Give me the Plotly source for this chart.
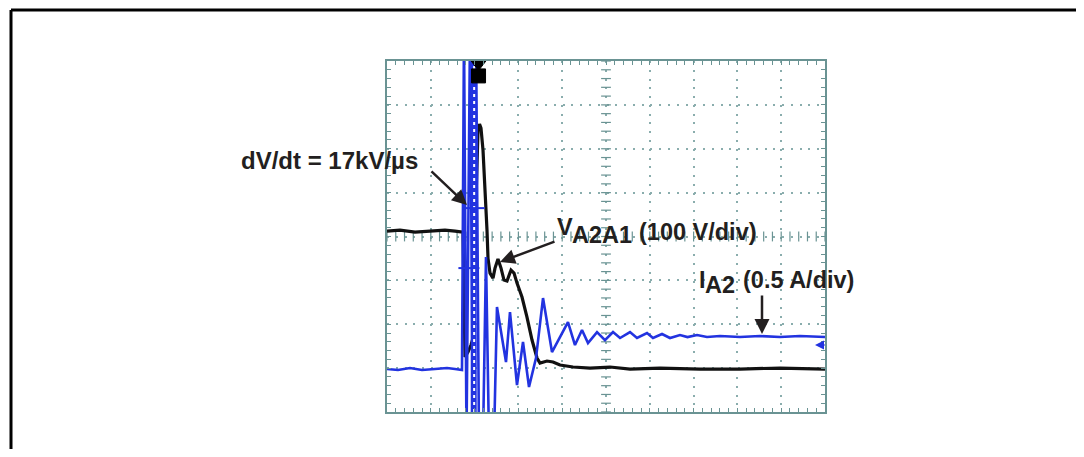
import numpy as np
import plotly.graph_objects as go

# ---------------- data (oscilloscope divisions: x 0..10, y 0..8) ----------------
t_vak = [0.000, 0.297, 0.639, 0.982, 1.324, 1.553, 1.735, 1.781, 1.849, 1.918, 1.986,
         2.032, 2.078, 2.112, 2.146, 2.192, 2.237, 2.283, 2.306, 2.352, 2.420, 2.466,
         2.534, 2.603, 2.671, 2.740, 2.831, 2.900, 2.968, 3.082, 3.196, 3.311, 3.425,
         3.493, 3.653, 3.790, 3.950, 4.247, 4.635, 5.091, 5.548, 6.233, 7.146, 8.059,
         8.973, 10.000]
v_a2a1 = [4.123, 4.146, 4.100, 4.123, 4.146, 4.123, 4.100, 1.253, 1.367, 1.526, 1.754,
          4.829, 6.424, 6.560, 6.469, 5.968, 5.216, 4.146, 3.508, 3.166, 3.052, 3.280,
          3.485, 3.280, 3.007, 2.984, 3.235, 3.166, 2.938, 2.620, 2.164, 1.640, 1.230,
          1.116, 1.162, 1.139, 1.071, 1.025, 1.002, 1.025, 0.979, 1.002, 0.979, 0.979,
          1.002, 0.979]

t_ia2 = [0.000, 0.251, 0.525, 0.799, 1.096, 1.370, 1.553, 1.712, 1.758, 1.815, 1.895,
         1.963, 2.032, 2.100, 2.192, 2.260, 2.329, 2.443, 2.511, 2.717, 2.808, 2.968,
         3.105, 3.242, 3.402, 3.562, 3.767, 4.132, 4.292, 4.452, 4.589, 4.795, 4.977,
         5.160, 5.320, 5.548, 5.708, 5.936, 6.073, 6.279, 6.461, 6.689, 6.861, 7.078,
         7.306, 7.603, 8.059, 8.516, 8.973, 9.429, 10.000]
i_a2 = [0.979, 0.957, 1.002, 0.957, 0.979, 1.002, 0.979, 0.957, 8.70, -0.64, 8.70,
        -0.64, 8.70, -0.64, -0.64, 3.531, -0.64, -0.64, 2.392, 1.139, 2.278, 0.615,
        1.595, 0.569, 1.230, 2.597, 1.367, 2.050, 1.526, 1.868, 1.572, 1.822, 1.640,
        1.822, 1.686, 1.822, 1.686, 1.800, 1.686, 1.777, 1.686, 1.754, 1.708, 1.754,
        1.708, 1.731, 1.708, 1.731, 1.708, 1.731, 1.708]

cursor_x = [1.99, 1.87]          # blue cursor crosses
cursor_y = [4.647, 3.280]
trigger_x = 2.09
ground_i = 1.53                   # blue channel ground marker level

# ---------------- layout helpers (page pixel coordinates, body margin 8px) ----------------
OFF = 8
W, H = 1084 - 2 * OFF, 457 - 2 * OFF
PX0, PX1, PY0, PY1 = 387, 825, 61, 412
def xp(px):
    return (px - OFF) / W
def yp(py):
    return 1 - (py - OFF) / H

GRID = "#8aadad"
FRAME = "#6a9393"
BLUE = "#2233e0"
BLACK = "#111111"
TXT = "#231f20"
FONT = "Liberation Sans, Arial, sans-serif"

fig = go.Figure()

# centre-line tick marks
fig.add_trace(go.Scatter(x=[5] * 41, y=np.round(np.arange(0, 8.01, 0.2), 2), mode="markers",
                         marker=dict(symbol="line-ew", size=7, line=dict(width=1.2, color=FRAME)),
                         hoverinfo="skip", showlegend=False))
fig.add_trace(go.Scatter(x=np.round(np.arange(0, 10.01, 0.2), 2), y=[4] * 51, mode="markers",
                         marker=dict(symbol="line-ns", size=7, line=dict(width=1.2, color=FRAME)),
                         hoverinfo="skip", showlegend=False))

# voltage trace
fig.add_trace(go.Scatter(x=t_vak, y=v_a2a1, mode="lines", line=dict(color=BLACK, width=3.2),
                         showlegend=False))
# current trace
fig.add_trace(go.Scatter(x=t_ia2, y=i_a2, mode="lines", line=dict(color=BLUE, width=2.6),
                         showlegend=False))
# blue dense band + dotted cursor
fig.add_trace(go.Scatter(x=[1.98, 1.98], y=[0, 8], mode="lines", line=dict(color=BLUE, width=6),
                         showlegend=False))
fig.add_trace(go.Scatter(x=[1.99, 1.99], y=[0, 8], mode="lines",
                         line=dict(color="white", width=2, dash="3px,4px"), showlegend=False))
# cursor crosses
fig.add_trace(go.Scatter(x=cursor_x, y=cursor_y, mode="markers",
                         marker=dict(symbol="line-ew", size=15, line=dict(width=2, color=BLUE)),
                         showlegend=False, cliponaxis=False))
# trigger marker
fig.add_trace(go.Scatter(x=[trigger_x, trigger_x], y=[7.93, 7.66], mode="markers",
                         marker=dict(symbol=["triangle-down", "square"], size=[13, 14],
                                     color="black", opacity=1,
                                     line=dict(width=1, color="black")),
                         showlegend=False, cliponaxis=False))

axis_common = dict(showgrid=True, gridcolor=GRID, griddash="2px,6.78px", gridwidth=1.5,
                   showline=True, linecolor=FRAME, linewidth=2, mirror="allticks",
                   ticks="inside", ticklen=4, tickcolor=FRAME, tickwidth=1.2,
                   showticklabels=False, zeroline=False, fixedrange=True,
                   minor=dict(dtick=0.2, ticks="inside", ticklen=4, tickcolor=FRAME,
                              tickwidth=1.2, showgrid=False))
fig.update_xaxes(range=[0, 10], dtick=1, tick0=0, domain=[xp(PX0), xp(PX1)], **axis_common)
fig.update_yaxes(range=[0, 8], dtick=1, tick0=0, domain=[yp(PY1), yp(PY0)], **axis_common)

ann = []
def text(s, px, pyc, size=23.5):
    ann.append(dict(text=s, x=xp(px), y=yp(pyc), xref="paper", yref="paper",
                    xanchor="left", yanchor="middle", showarrow=False,
                    font=dict(family=FONT, size=size, color=TXT)))
def arrow(hx, hy, tx, ty, color=TXT, width=2.5, size=1.2):
    ann.append(dict(text="", x=xp(hx), y=yp(hy), xref="paper", yref="paper",
                    ax=tx - hx, ay=ty - hy, axref="pixel", ayref="pixel",
                    showarrow=True, arrowhead=2, arrowsize=size, arrowwidth=width,
                    arrowcolor=color, standoff=0, startstandoff=0))

text("<b>dV/dt = 17kV/µs</b>", 239, 161, size=24)
text("<b>V</b>", 555, 227)
text("<b>A2A1</b>", 570, 235)
text("<b>(100 V/div)</b>", 637, 232)
text("<b>I</b>", 697, 280)
text("<b>A2</b>", 703, 285)
text("<b>(0.5 A/div)</b>", 741, 280)
arrow(467, 205, 430, 170)
arrow(500, 262, 556, 241)
arrow(762, 334, 762, 294)
arrow(815, 345, 826, 345, color=BLUE, width=1.8, size=1.0)

fig.update_layout(
    width=W, height=H, autosize=False,
    margin=dict(l=0, r=0, t=0, b=0),
    paper_bgcolor="white", plot_bgcolor="white",
    showlegend=False,
    annotations=ann,
    shapes=[
        dict(type="line", xref="paper", yref="paper", x0=xp(11), x1=xp(11), y0=0, y1=yp(10),
             line=dict(color="black", width=3)),
        dict(type="line", xref="paper", yref="paper", x0=xp(11), x1=1.0, y0=yp(10), y1=yp(10),
             line=dict(color="black", width=3)),
    ],
)

fig.write_html("out.html")
